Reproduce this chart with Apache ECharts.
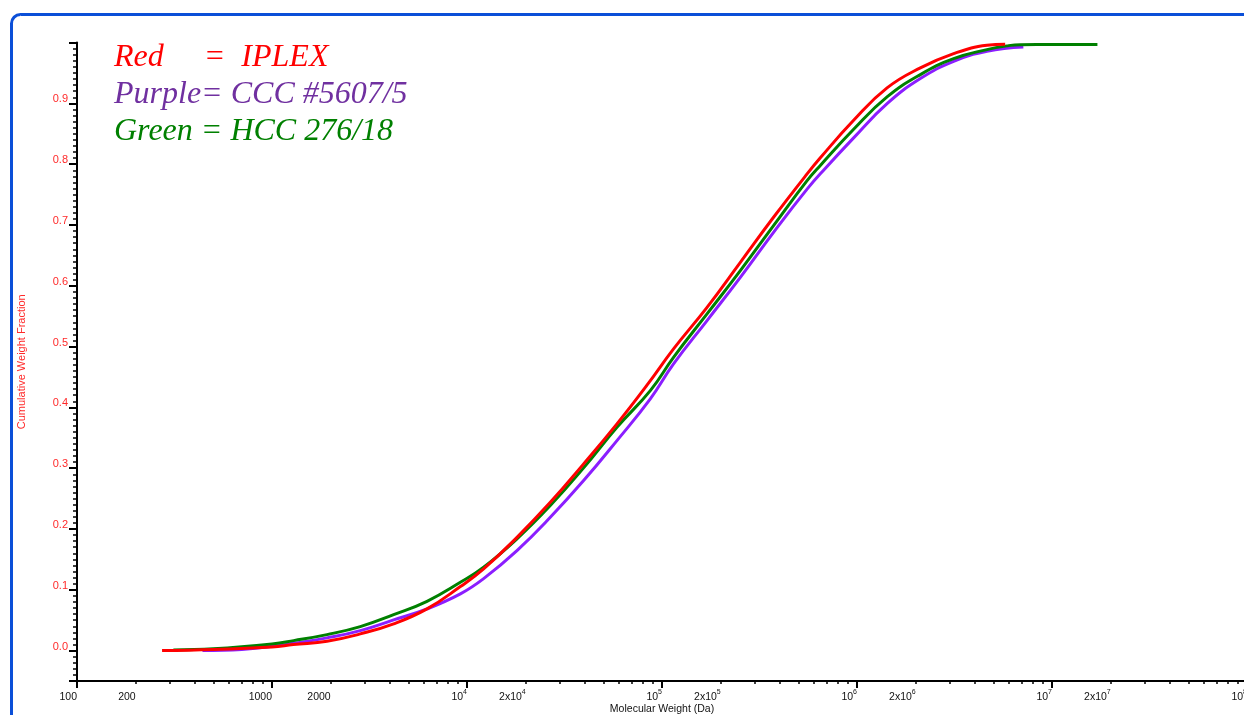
<!DOCTYPE html>
<html>
<head>
<meta charset="utf-8">
<title>Cumulative Weight Fraction</title>
<script src="https://cdn.jsdelivr.net/npm/echarts@6.0.0/dist/echarts.min.js"></script>
<style>
  html, body { margin: 0; padding: 0; background: #fff; overflow: hidden; }
  #chart { width: 1244px; height: 715px; }
</style>
</head>
<body>
<div id="chart"></div>
<script>
// Molecular weight (Da) and cumulative weight fraction
const iplexMw = [273, 500, 1000, 1286, 1914, 2836, 4205, 6237, 9247, 12170, 18040, 26740, 39630, 58750, 83750, 114600, 170200, 252200, 373300, 554600, 648600, 961000, 1426000, 2113000, 3130000, 4640000, 5750000];
const iplexFrac = [0.0, 0.002, 0.0058, 0.0099, 0.0153, 0.0275, 0.0439, 0.0686, 0.1053, 0.1344, 0.1863, 0.2439, 0.3071, 0.3729, 0.4365, 0.4962, 0.5646, 0.6387, 0.7127, 0.784, 0.8105, 0.8722, 0.9255, 0.9584, 0.9819, 0.9956, 0.9972];

const cccMw = [440, 700, 1000, 1286, 1914, 2836, 4205, 6237, 9247, 12170, 18040, 26740, 39630, 58750, 87100, 114600, 170200, 252200, 373300, 554600, 687000, 961000, 1426000, 2113000, 3130000, 4640000, 7130000];
const cccFrac = [0.0, 0.002, 0.007, 0.012, 0.0209, 0.0329, 0.0505, 0.0686, 0.0933, 0.1184, 0.1645, 0.2192, 0.2796, 0.3454, 0.414, 0.4715, 0.5428, 0.614, 0.688, 0.759, 0.793, 0.8433, 0.8997, 0.9408, 0.9692, 0.9857, 0.9926];

const hccMw = [312, 500, 1000, 1291, 1914, 2836, 4205, 6237, 9247, 12170, 18040, 26740, 39630, 58750, 87100, 114600, 170200, 252200, 373300, 554600, 648600, 961000, 1426000, 2113000, 3130000, 4640000, 5880000, 6880000, 17100000];
const hccFrac = [0.001, 0.003, 0.011, 0.0164, 0.0263, 0.0395, 0.0592, 0.0811, 0.1123, 0.137, 0.1837, 0.2385, 0.3005, 0.3673, 0.4276, 0.4824, 0.5538, 0.625, 0.699, 0.773, 0.798, 0.8574, 0.9107, 0.9474, 0.9737, 0.9885, 0.9946, 0.9966, 0.997];

// axis ticks
const xMajorTicks = [100, 1000, 1e4, 1e5, 1e6, 1e7, 1e8];
const xMinorTicks = [];
for (const d of [100, 1000, 1e4, 1e5, 1e6, 1e7]) {
  for (let k = 2; k <= 9; k++) xMinorTicks.push(k * d);
}
const xLabelValues = [100, 200, 1000, 2000, 1e4, 2e4, 1e5, 2e5, 1e6, 2e6, 1e7, 2e7, 1e8];
const xLabelTexts = ['100', '200', '1000', '2000', '10{sup|4}', '2x10{sup|4}', '10{sup|5}', '2x10{sup|5}',
  '10{sup|6}', '2x10{sup|6}', '10{sup|7}', '2x10{sup|7}', '10{sup|8}'];

const yLabelValues = [0, 0.1, 0.2, 0.3, 0.4, 0.5, 0.6, 0.7, 0.8, 0.9];
const yMajorTicks = [-0.05, 0, 0.1, 0.2, 0.3, 0.4, 0.5, 0.6, 0.7, 0.8, 0.9, 1.0];
const yMinorTicks = [];
for (let i = -5; i <= 100; i++) yMinorTicks.push(+(i / 100).toFixed(2));

const zip = (xs, ys) => xs.map((x, i) => [x, ys[i]]);

const chart = echarts.init(document.getElementById('chart'));

const baseFont = 'Liberation Sans, Arial, sans-serif';
const legendFont = 'italic 32px "Liberation Serif", "Times New Roman", serif';

const lineSeries = (name, xs, ys, color) => ({
  name: name,
  type: 'line',
  data: zip(xs, ys),
  showSymbol: false,
  smooth: 0.45,
  lineStyle: { color: color, width: 3 },
  itemStyle: { color: color },
  xAxisIndex: 0,
  yAxisIndex: 0
});

const option = {
  animation: false,
  backgroundColor: '#fff',
  grid: { left: 77, right: -3, top: 42.6, bottom: 34, containLabel: false, outerBoundsMode: 'none' },
  xAxis: [{
    type: 'log',
    logBase: 10,
    min: 100,
    max: 1e8,
    position: 'bottom',
    name: 'Molecular Weight (Da)',
    nameLocation: 'middle',
    nameGap: 23,
    nameMoveOverlap: false,
    nameTextStyle: { color: '#111', fontSize: 10.5, fontFamily: baseFont },
    axisLine: { show: true, onZero: false, lineStyle: { color: '#000', width: 2 } },
    axisTick: { show: true, customValues: xMajorTicks, length: 7, lineStyle: { color: '#000', width: 2 } },
    axisLabel: {
      customValues: xLabelValues,
      color: '#111',
      fontSize: 10.5,
      fontFamily: baseFont,
      lineHeight: 16,
      align: 'right',
      margin: 8,
      formatter: (v) => {
        const idx = xLabelValues.findIndex(t => Math.abs(Math.log10(t) - Math.log10(v)) < 1e-6);
        return idx >= 0 ? xLabelTexts[idx] : '';
      },
      rich: {
        sup: { fontSize: 7, lineHeight: 8, verticalAlign: 'top', color: '#111', fontFamily: baseFont }
      }
    },
    splitLine: { show: false }
  }, {
    type: 'log',
    logBase: 10,
    min: 100,
    max: 1e8,
    position: 'bottom',
    axisLine: { show: false, onZero: false },
    axisTick: { show: true, customValues: xMinorTicks, length: 3, lineStyle: { color: '#000', width: 1.5 } },
    axisLabel: { show: false },
    splitLine: { show: false }
  }],
  yAxis: [{
    type: 'value',
    min: -0.05,
    max: 1.0,
    position: 'left',
    name: 'Cumulative Weight Fraction',
    nameLocation: 'middle',
    nameGap: 50,
    nameMoveOverlap: false,
    nameTextStyle: { color: '#ff2a2a', fontSize: 11, fontFamily: baseFont },
    axisLine: { show: true, onZero: false, lineStyle: { color: '#000', width: 2 } },
    axisTick: { show: true, customValues: yMajorTicks, length: 8, lineStyle: { color: '#000', width: 2 } },
    axisLabel: {
      customValues: yLabelValues,
      color: '#ff2a2a',
      fontSize: 11,
      fontFamily: baseFont,
      margin: 9,
      verticalAlign: 'bottom',
      lineHeight: 8,
      formatter: (v) => v.toFixed(1)
    },
    splitLine: { show: false }
  }, {
    type: 'value',
    min: -0.05,
    max: 1.0,
    position: 'left',
    axisLine: { show: false, onZero: false },
    axisTick: { show: true, customValues: yMinorTicks, length: 4, lineStyle: { color: '#000', width: 1.5 } },
    axisLabel: { show: false },
    splitLine: { show: false }
  }],
  graphic: [{
    type: 'rect',
    silent: true,
    shape: { x: 11.5, y: 14.5, width: 1400, height: 900, r: 9 },
    style: { fill: 'none', stroke: '#0b4fd8', lineWidth: 3 }
  }, {
    type: 'text',
    left: 114, top: 42,
    style: { text: 'Red     =  IPLEX', fill: '#ff0000', font: legendFont }
  }, {
    type: 'text',
    left: 114, top: 79,
    style: { text: 'Purple= CCC #5607/5', fill: '#7030a0', font: legendFont }
  }, {
    type: 'text',
    left: 114, top: 115.5,
    style: { text: 'Green = HCC 276/18', fill: '#008000', font: legendFont }
  }],
  series: [
    lineSeries('CCC #5607/5', cccMw, cccFrac, '#8b1eff'),
    lineSeries('HCC 276/18', hccMw, hccFrac, '#008000'),
    lineSeries('IPLEX', iplexMw, iplexFrac, '#ff0000')
  ]
};

chart.setOption(option);
window.addEventListener('resize', () => chart.resize());
</script>
</body>
</html>
